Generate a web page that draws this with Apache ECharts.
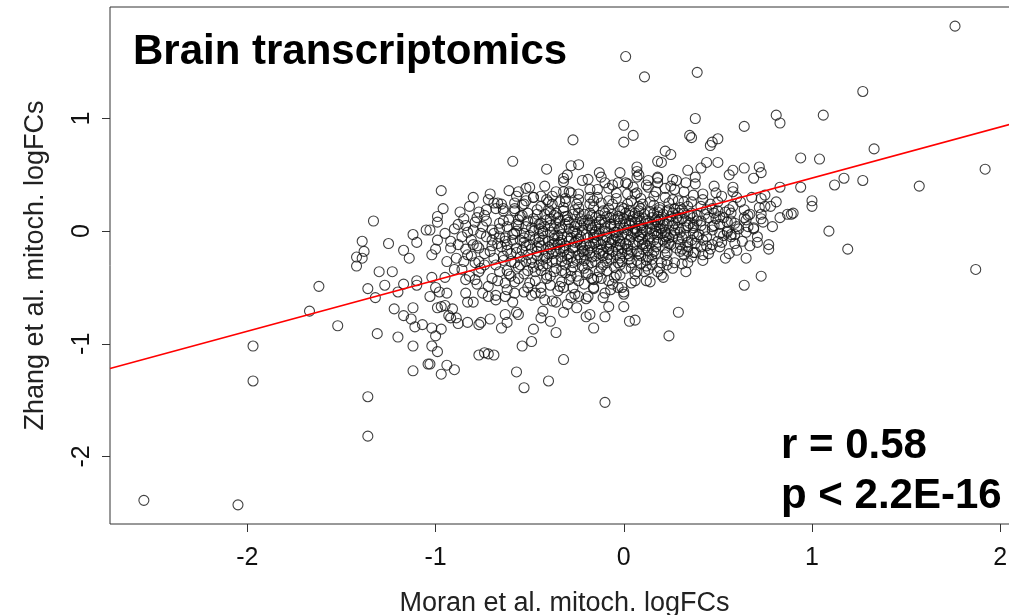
<!DOCTYPE html>
<html>
<head>
<meta charset="utf-8">
<script src="https://cdn.jsdelivr.net/npm/echarts@6/dist/echarts.min.js"></script>
<style>html,body{margin:0;padding:0;background:#fff;overflow:hidden}#c{width:1009px;height:615px}</style>
</head>
<body>
<div id="c"></div>
<script>
// ---- data ----
const xTicks = [-2, -1, 0, 1, 2];
const yTicks = [-2, -1, 0, 1];
const xName = 'Moran et al. mitoch. logFCs';
const yName = 'Zhang et al. mitoch. logFCs';
const titleText = 'Brain transcriptomics';
const statR = 'r = 0.58';
const statP = 'p < 2.2E-16';
const fitLine = [[-2.73, -1.22], [2.10, 0.97]];

const outliers = [
  [1.76,1.82],[1.27,1.24],[0.01,1.55],[0.11,1.37],[0.39,1.41],[0.38,1.00],[0.00,0.94],[0.64,0.93],
  [0.81,1.03],[0.83,0.96],[1.06,1.03],[1.33,0.73],[0.94,0.65],[1.04,0.64],[1.17,0.47],[1.12,0.41],
  [1.27,0.45],[1.57,0.40],[1.92,0.55],[1.00,0.27],[1.00,0.22],[1.09,0.00],[1.19,-0.16],[1.87,-0.34],
  [0.89,0.15],[0.94,0.39],[0.90,0.16],
  [-2.55,-2.39],[-2.05,-2.43],[-1.97,-1.02],[-1.97,-1.33],[-1.67,-0.71],[-1.62,-0.49],[-1.52,-0.84],
  [-1.39,-0.09],[-1.38,-0.18],[-1.42,-0.23],[-1.39,-0.24],[-1.42,-0.31],[-1.36,-0.51],[-1.36,-1.47],
  [-1.36,-1.82],[-1.33,0.09],[-1.30,-0.36],[-1.32,-0.59],[-1.31,-0.91],
  [-0.10,-1.52],[-0.53,-1.39],[-0.40,-1.33],[-0.57,-1.25],[-0.32,-1.14],[0.24,-0.93],[0.29,-0.72],
  [0.65,-0.24],[0.73,-0.40],[0.64,-0.48]
];

const leftCloud = [
  [-1.25,-0.11],[-1.23,-0.36],[-1.27,-0.48],[-1.17,-0.47],[-1.10,-0.44],[-1.10,-0.48],[-1.20,-0.54],
  [-1.22,-0.69],[-1.12,-0.68],[-1.17,-0.75],[-1.13,-0.78],[-1.11,-0.85],[-1.07,-0.83],[-1.20,-0.94],
  [-1.12,-1.02],[-1.02,-1.02],[-0.99,-1.07],[-1.04,-1.18],[-1.03,-1.18],[-1.12,-1.24],[-0.94,-1.19],
  [-0.90,-1.23],[-0.97,-1.27],[-1.02,-0.86],[-0.97,-0.87],[-1.00,-0.93],[-0.99,-0.68],[-0.97,-0.67],
  [-0.95,-0.66],[-0.91,-0.69],[-0.93,-0.75],[-0.92,-0.77],[-0.89,-0.77],[-0.88,-0.82],[-1.02,-0.41],
  [-0.95,-0.41],[-1.00,-0.50],[-0.98,-0.54],[-0.94,-0.55],[-1.03,-0.58],[-0.97,0.36],[-0.96,0.20],
  [-0.99,0.13],[-0.99,0.08],[-1.05,0.01],[-1.03,0.01],[-1.12,-0.03],[-1.10,-0.10],[-0.99,-0.08],
  [-0.95,-0.02],[-1.17,-0.17],[-1.14,-0.24],[-1.00,-0.16],[-1.02,-0.21],[-0.90,0.02],[-0.85,0.11],
  [-0.90,-0.34],[-0.86,-0.34],[-0.84,-0.55],[-0.83,-0.63],[-0.84,-0.43],[-0.79,-0.43],[-0.80,-0.63],
  [-0.83,-0.81],[-0.77,-0.83],[-0.77,-1.10],[-0.83,-0.01],[-0.80,0.01],
  [-0.92,-0.15],[-0.88,-0.12],[-0.84,-0.16],[-0.81,-0.22],[-0.89,-0.24],[-0.94,-0.27],[-0.78,-0.13],
  [-0.77,-0.27],[-0.85,-0.27]
];

const upperCloud = [
  [-0.27,0.81],[-0.59,0.62],[-0.41,0.55],[-0.28,0.58],[-0.24,0.59],[-0.32,0.47],[-0.30,0.50],
  [-0.50,0.39],[-0.36,0.35],[-0.32,0.35],[-0.29,0.35],[-0.56,0.35],[-0.57,0.31],[-0.48,0.30],
  [-0.41,0.28],[-0.69,0.25],[-0.67,0.25],[-0.53,0.24],[-0.64,0.20],[-0.58,0.18],[-0.51,0.16],
  [-0.31,0.26],[-0.25,0.24],[-0.39,0.17],
  [0.05,0.85],[0.00,0.79],[0.22,0.71],[0.25,0.68],[0.18,0.62],[0.20,0.61],[0.18,0.48],[0.26,0.46],
  [0.07,0.57],[0.07,0.53],[0.07,0.48],[-0.13,0.52],[-0.19,0.46],[-0.10,0.43],[-0.03,0.43],[0.01,0.43],
  [0.18,0.43],[0.27,0.37],[0.13,0.39],[0.07,0.34],
  [0.35,0.85],[0.36,0.83],[0.47,0.79],[0.50,0.82],[0.46,0.76],[0.50,0.61],[0.44,0.61],[0.34,0.54],
  [0.41,0.56],[0.38,0.48],[0.58,0.54],[0.56,0.50],[0.64,0.56],[0.72,0.57],[0.73,0.52],[0.69,0.47],
  [0.83,0.39],[0.75,0.32],[0.73,0.29]
];

const rightCloud = [
  [0.58,0.39],[0.60,0.30],[0.64,0.19],[0.67,0.15],[0.73,0.15],[0.75,0.22],[0.78,0.22],[0.81,0.26],
  [0.83,0.12],[0.87,0.15],[0.66,0.04],[0.69,0.03],[0.79,0.04],[0.65,-0.01],[0.59,-0.03],[0.55,0.00],
  [0.57,-0.05],[0.71,-0.10],[0.77,-0.12],[0.51,0.13],[0.48,0.16],[0.47,0.04],[0.42,-0.08],[0.41,-0.14],
  [0.34,-0.14],[0.51,-0.14],[0.42,-0.21],[0.37,-0.19],[0.34,-0.18],[0.31,-0.29],[0.77,-0.16]
];

const lowerCloud = [
  [0.03,-0.80],[0.06,-0.79],[-0.16,-0.86],[-0.10,-0.76],[-0.08,-0.67],[0.00,-0.67],[-0.20,-0.76],
  [-0.18,-0.74],[-0.11,-0.59],[-0.07,-0.52],[0.00,-0.54],[-0.01,-0.50],[-0.16,-0.50],[-0.19,-0.58],
  [0.13,-0.34],[0.07,-0.36],[0.12,-0.44],[0.20,-0.39],[-0.02,-0.39],[-0.05,-0.41],[-0.16,-0.43],
  [0.23,-0.30],
  [-0.63,-0.74],[-0.62,-0.81],[-0.65,-0.86],[-0.57,-0.72],[-0.56,-0.74],[-0.71,-0.78],[-0.76,-0.81],
  [-0.43,-0.71],[-0.44,-0.77],[-0.39,-0.80],[-0.32,-0.72],[-0.36,-0.90],[-0.48,-0.87],[-0.49,-0.98],
  [-0.54,-1.02],[-0.74,-1.08],[-0.72,-1.09],[-0.69,-1.10],[-0.25,-0.68],[-0.38,-0.62],[-0.42,-0.61],
  [-0.53,-0.54],[-0.63,-0.58],[-0.68,-0.61],[-0.72,-0.58],[-0.47,-0.55],[-0.32,-0.50],[-0.28,-0.59],
  [-0.24,-0.58]
];

const coreCloud = [
  [-0.82,0.22],[-0.78,0.12],[-0.84,0.05],[-0.76,-0.02],[-0.81,-0.08],[-0.77,-0.15],[-0.83,-0.21],[-0.79,-0.28],[-0.76,-0.33],[-0.82,-0.40],[-0.78,-0.47],[-0.80,0.30],[-0.75,-0.55],[-0.77,0.17],
  [-0.72,0.28],[-0.68,0.20],[-0.74,0.14],[-0.66,0.07],[-0.70,0.01],[-0.73,-0.05],[-0.67,-0.11],[-0.71,-0.18],[-0.69,-0.24],[-0.74,-0.30],[-0.66,-0.36],[-0.70,-0.42],[-0.72,-0.49],[-0.68,-0.57],[-0.71,0.33],[-0.65,-0.14],[-0.69,-0.02],
  [-0.61,0.36],[-0.58,0.25],[-0.64,0.18],[-0.56,0.10],[-0.62,0.04],[-0.59,-0.03],[-0.63,-0.09],[-0.57,-0.15],[-0.60,-0.20],[-0.64,-0.26],[-0.56,-0.32],[-0.61,-0.38],[-0.58,-0.45],[-0.62,-0.52],[-0.59,-0.63],[-0.55,0.13],[-0.63,-0.06],[-0.58,-0.28],[-0.60,-0.40],[-0.57,0.00],
  [-0.52,0.38],[-0.48,0.30],[-0.54,0.23],[-0.46,0.15],[-0.51,0.09],[-0.49,0.03],[-0.53,-0.02],[-0.47,-0.07],[-0.50,-0.12],[-0.54,-0.17],[-0.46,-0.22],[-0.52,-0.27],[-0.48,-0.32],[-0.53,-0.38],[-0.47,-0.44],[-0.51,-0.50],[-0.49,-0.57],[-0.45,0.06],[-0.53,-0.10],[-0.49,-0.25],[-0.51,-0.35],[-0.46,-0.14],[-0.50,-0.04],
  [-0.42,0.40],[-0.38,0.31],[-0.44,0.22],[-0.36,0.16],[-0.41,0.10],[-0.39,0.05],[-0.43,0.00],[-0.37,-0.04],[-0.40,-0.09],[-0.44,-0.13],[-0.36,-0.18],[-0.42,-0.22],[-0.38,-0.27],[-0.43,-0.31],[-0.37,-0.36],[-0.41,-0.42],[-0.39,-0.48],[-0.44,-0.55],[-0.36,-0.63],[-0.35,0.12],[-0.43,-0.02],[-0.39,-0.16],[-0.41,-0.29],[-0.37,-0.07],[-0.40,0.19],
  [-0.32,0.44],[-0.28,0.34],[-0.34,0.26],[-0.26,0.19],[-0.31,0.13],[-0.29,0.08],[-0.33,0.03],[-0.27,-0.01],[-0.30,-0.05],[-0.34,-0.10],[-0.26,-0.14],[-0.32,-0.18],[-0.28,-0.23],[-0.33,-0.27],[-0.27,-0.32],[-0.31,-0.37],[-0.29,-0.43],[-0.34,-0.49],[-0.26,-0.56],[-0.30,-0.65],[-0.25,0.06],[-0.33,-0.08],[-0.29,-0.20],[-0.31,-0.30],[-0.27,0.15],[-0.35,-0.12],
  [-0.22,0.45],[-0.18,0.37],[-0.24,0.28],[-0.16,0.21],[-0.21,0.15],[-0.19,0.10],[-0.23,0.05],[-0.17,0.01],[-0.20,-0.03],[-0.24,-0.07],[-0.16,-0.11],[-0.22,-0.15],[-0.18,-0.19],[-0.23,-0.24],[-0.17,-0.28],[-0.21,-0.33],[-0.19,-0.38],[-0.24,-0.44],[-0.16,-0.51],[-0.20,-0.60],[-0.15,0.12],[-0.23,-0.05],[-0.19,-0.17],[-0.21,-0.26],[-0.17,0.03],[-0.25,-0.09],[-0.18,0.24],
  [-0.12,0.48],[-0.08,0.38],[-0.14,0.30],[-0.06,0.24],[-0.11,0.18],[-0.09,0.13],[-0.13,0.08],[-0.07,0.04],[-0.10,0.00],[-0.14,-0.04],[-0.06,-0.08],[-0.12,-0.12],[-0.08,-0.16],[-0.13,-0.20],[-0.07,-0.25],[-0.11,-0.30],[-0.09,-0.35],[-0.14,-0.41],[-0.06,-0.47],[-0.10,-0.55],[-0.05,0.10],[-0.13,-0.02],[-0.09,-0.14],[-0.11,-0.22],[-0.07,0.06],[-0.15,-0.10],[-0.08,0.20],[-0.12,-0.32],
  [-0.02,0.52],[0.02,0.42],[-0.04,0.34],[0.04,0.27],[-0.01,0.21],[0.01,0.16],[-0.03,0.11],[0.03,0.07],[0.00,0.03],[-0.04,-0.01],[0.04,-0.05],[-0.02,-0.09],[0.02,-0.13],[-0.03,-0.17],[0.03,-0.22],[-0.01,-0.27],[0.01,-0.33],[-0.04,-0.39],[0.04,-0.46],[0.00,-0.56],[0.05,0.13],[-0.03,0.01],[0.01,-0.11],[-0.01,-0.20],[0.03,0.05],[-0.05,-0.07],[0.02,0.24],[-0.02,-0.30],[0.04,0.09],
  [0.08,0.50],[0.12,0.41],[0.06,0.33],[0.14,0.26],[0.09,0.20],[0.11,0.15],[0.07,0.11],[0.13,0.07],[0.10,0.03],[0.06,-0.01],[0.14,-0.05],[0.08,-0.09],[0.12,-0.13],[0.07,-0.18],[0.13,-0.23],[0.09,-0.29],[0.11,-0.36],[0.06,-0.44],[0.15,0.12],[0.07,0.00],[0.11,-0.11],[0.09,0.05],[0.13,-0.07],[0.08,0.22],[0.10,-0.16],[0.14,0.17],
  [0.18,0.47],[0.22,0.38],[0.16,0.31],[0.24,0.25],[0.19,0.19],[0.21,0.15],[0.17,0.10],[0.23,0.06],[0.20,0.02],[0.16,-0.02],[0.24,-0.06],[0.18,-0.10],[0.22,-0.15],[0.17,-0.20],[0.23,-0.26],[0.19,-0.33],[0.21,-0.41],[0.25,0.13],[0.17,0.04],[0.21,-0.08],[0.19,0.21],[0.23,-0.04],[0.18,0.08],
  [0.28,0.45],[0.32,0.35],[0.26,0.28],[0.34,0.22],[0.29,0.16],[0.31,0.11],[0.27,0.07],[0.33,0.03],[0.30,-0.01],[0.26,-0.05],[0.34,-0.10],[0.28,-0.15],[0.32,-0.21],[0.27,-0.28],[0.33,-0.36],[0.35,0.14],[0.27,0.01],[0.31,0.19],[0.29,-0.07],[0.33,0.09],
  [0.38,0.42],[0.42,0.33],[0.36,0.26],[0.44,0.19],[0.39,0.14],[0.41,0.09],[0.37,0.05],[0.43,0.01],[0.40,-0.03],[0.36,-0.08],[0.44,-0.13],[0.38,-0.19],[0.42,-0.26],[0.45,0.12],[0.37,0.03],[0.41,0.22],[0.39,-0.05],
  [0.48,0.40],[0.52,0.31],[0.46,0.24],[0.54,0.17],[0.49,0.11],[0.51,0.06],[0.47,0.01],[0.53,-0.04],[0.50,-0.09],[0.46,-0.16],[0.54,-0.24],[0.55,0.08],[0.47,0.20],[0.51,-0.02],
  [0.58,0.35],[0.62,0.26],[0.56,0.19],[0.64,0.12],[0.59,0.07],[0.61,0.02],[0.57,-0.03],[0.63,-0.09],[0.60,-0.17],[0.65,0.10],[0.57,0.16],
  [0.68,0.30],[0.72,0.21],[0.66,0.14],[0.74,0.08],[0.69,0.02],[0.71,-0.05],[0.67,-0.13],[0.73,0.11]
];

const coreCloud2 = [
  [-0.79,0.08],[-0.73,0.19],[-0.65,0.24],[-0.62,-0.12],[-0.77,-0.36],[-0.68,-0.30],[-0.63,-0.46],[-0.74,-0.20],[-0.66,0.02],[-0.61,0.10],[-0.80,-0.12],[-0.70,-0.08],[-0.64,-0.22],[-0.75,0.04],[-0.67,-0.44],
  [-0.58,0.20],[-0.52,0.27],[-0.44,0.31],[-0.56,0.05],[-0.48,0.11],[-0.42,0.04],[-0.59,-0.08],[-0.53,-0.06],[-0.45,-0.10],[-0.57,-0.19],[-0.51,-0.21],[-0.43,-0.25],[-0.55,-0.30],[-0.47,-0.36],[-0.41,-0.39],[-0.56,-0.42],[-0.50,-0.46],[-0.44,-0.50],[-0.58,-0.55],[-0.46,0.19],[-0.54,0.14],[-0.40,-0.14],[-0.49,-0.16],[-0.52,-0.13],[-0.45,-0.30],
  [-0.38,0.24],[-0.32,0.21],[-0.24,0.33],[-0.36,0.07],[-0.30,0.10],[-0.22,0.09],[-0.39,-0.01],[-0.33,-0.03],[-0.25,-0.02],[-0.37,-0.11],[-0.31,-0.13],[-0.23,-0.12],[-0.38,-0.20],[-0.30,-0.25],[-0.24,-0.21],[-0.36,-0.33],[-0.28,-0.35],[-0.22,-0.31],[-0.39,-0.40],[-0.33,-0.45],[-0.25,-0.40],[-0.35,-0.53],[-0.27,-0.50],[-0.21,-0.47],[-0.31,0.29],[-0.26,0.00],[-0.34,-0.16],[-0.29,-0.09],[-0.21,-0.17],[-0.37,0.14],
  [-0.18,0.30],[-0.12,0.25],[-0.04,0.29],[-0.17,0.14],[-0.10,0.16],[-0.02,0.18],[-0.19,0.05],[-0.13,0.02],[-0.05,0.05],[-0.16,-0.06],[-0.09,-0.05],[-0.01,-0.03],[-0.18,-0.13],[-0.12,-0.17],[-0.04,-0.14],[-0.15,-0.22],[-0.08,-0.21],[-0.02,-0.24],[-0.19,-0.30],[-0.13,-0.36],[-0.05,-0.32],[-0.17,-0.42],[-0.08,-0.44],[-0.03,-0.50],[-0.14,0.37],[-0.06,0.41],[-0.11,-0.08],[-0.07,-0.11],[-0.15,-0.01],[-0.03,0.13],
  [0.02,0.33],[0.09,0.29],[0.17,0.35],[0.03,0.18],[0.10,0.24],[0.16,0.16],[0.01,0.09],[0.08,0.13],[0.15,0.06],[0.02,-0.03],[0.09,-0.03],[0.16,-0.08],[0.03,-0.08],[0.10,-0.07],[0.17,-0.14],[0.02,-0.16],[0.08,-0.20],[0.15,-0.25],[0.04,-0.28],[0.12,-0.31],[0.18,-0.36],[0.06,-0.38],[0.14,-0.45],[0.05,0.39],[0.13,0.45],[0.06,0.02],[0.12,0.00],[0.19,0.03],[0.05,-0.12],[0.18,-0.03],
  [0.22,0.30],[0.29,0.27],[0.37,0.32],[0.23,0.18],[0.30,0.21],[0.36,0.16],[0.21,0.09],[0.28,0.12],[0.35,0.07],[0.22,-0.01],[0.29,0.03],[0.37,-0.02],[0.24,-0.11],[0.31,-0.06],[0.38,-0.11],[0.22,-0.21],[0.30,-0.18],[0.36,-0.23],[0.26,-0.33],[0.34,-0.28],[0.25,0.40],[0.33,0.43],[0.27,-0.02],[0.32,0.16],[0.39,0.09],
  [0.42,0.28],[0.50,0.26],[0.58,0.22],[0.43,0.15],[0.50,0.18],[0.57,0.09],[0.41,0.05],[0.48,0.05],[0.55,-0.01],[0.44,-0.05],[0.52,-0.10],[0.59,-0.11],[0.45,-0.20],[0.56,-0.20],[0.49,0.34],[0.53,0.12],[0.47,-0.12],[0.60,0.04]
];

const coreCloud3 = [
  [-0.34,0.02],[-0.28,-0.06],[-0.22,0.01],[-0.16,-0.03],[-0.10,0.03],[-0.04,-0.04],[0.02,0.01],[0.08,-0.05],[0.14,0.02],[0.20,-0.02],[0.26,0.05],
  [-0.32,-0.15],[-0.26,-0.10],[-0.20,-0.12],[-0.14,-0.16],[-0.08,-0.10],[-0.02,-0.12],[0.04,-0.18],[0.10,-0.12],[0.16,-0.18],[0.22,-0.10],
  [-0.30,0.13],[-0.24,0.16],[-0.18,0.07],[-0.12,0.10],[-0.06,0.15],[0.00,0.11],[0.06,0.16],[0.12,0.09],[0.18,0.13],[0.24,0.09],
  [-0.33,-0.23],[-0.27,-0.28],[-0.21,-0.21],[-0.15,-0.27],[-0.09,-0.24],[-0.03,-0.28],[0.03,-0.25],[0.09,-0.22],[0.15,-0.30],
  [-0.45,-0.05],[-0.40,-0.20],[-0.48,0.00],[-0.44,0.07],[-0.55,-0.23],[-0.58,-0.02],[-0.62,-0.17],[-0.66,-0.05]
];

const coreCloud4 = [
  [-0.47,0.09],[-0.43,-0.08],[-0.39,0.11],[-0.35,-0.04],[-0.31,0.06],[-0.27,-0.15],[-0.23,0.11],[-0.19,-0.06],[-0.15,0.05],[-0.11,-0.19],[-0.07,0.12],[-0.03,-0.06],[0.01,0.06],[0.05,-0.02],[0.09,0.09],[0.13,-0.17],[0.17,0.00],[0.21,0.05],[0.25,-0.12],[0.29,0.10],[0.33,-0.04],[0.37,0.12],
  [-0.46,-0.18],[-0.42,0.15],[-0.38,-0.12],[-0.34,0.09],[-0.30,-0.21],[-0.26,0.04],[-0.22,-0.18],[-0.18,0.16],[-0.14,-0.09],[-0.10,0.07],[-0.06,-0.18],[-0.02,0.07],[0.02,-0.20],[0.06,0.08],[0.10,-0.01],[0.14,-0.11],[0.18,0.17],[0.22,-0.05],[0.26,0.16],[0.30,-0.12],[0.34,0.05],
  [-0.49,-0.28],[-0.45,0.02],[-0.41,-0.24],[-0.37,0.02],[-0.33,-0.35],[-0.29,0.02],[-0.25,-0.26],[-0.21,0.07],[-0.17,-0.23],[-0.13,0.14],[-0.09,-0.28],[-0.05,-0.01],[-0.01,-0.15],[0.03,0.14],[0.07,-0.26],[0.11,0.11],[0.15,-0.21],[0.19,0.10],[0.23,-0.19],[0.27,0.20],[0.31,-0.16],
  [-0.44,-0.35],[-0.36,-0.26],[-0.28,-0.40],[-0.20,-0.37],[-0.12,-0.42],[-0.04,-0.21],[0.04,-0.33],[0.12,-0.26],[0.20,-0.28],
  [-0.40,0.26],[-0.32,0.18],[-0.24,0.21],[-0.16,0.27],[-0.08,0.27],[0.00,0.20],[0.08,0.18],[0.16,0.23],[0.24,0.19],[0.32,0.26],
  [-0.70,-0.13],[-0.64,0.09],[-0.60,-0.27],[-0.55,-0.08],[-0.52,0.04],[-0.57,0.06],[-0.62,-0.35],[-0.73,0.09],[-0.86,-0.05],[-0.88,0.06],[-0.92,-0.09],[-0.87,0.17]
];

const allPoints = [].concat(outliers, leftCloud, upperCloud, rightCloud, lowerCloud,
  coreCloud, coreCloud2, coreCloud3, coreCloud4);

// ---- chart ----
const FONT = '"Liberation Sans", Arial, Helvetica, sans-serif';
const chart = echarts.init(document.getElementById('c'), null, {renderer: 'canvas'});
chart.setOption({
  animation: false,
  backgroundColor: '#fff',
  grid: {left: 110, width: 909, top: 7, height: 517, outerBoundsMode: 'none', containLabel: false,
    show: true, borderColor: '#333', borderWidth: 1, backgroundColor: 'transparent'},
  xAxis: {
    type: 'value', min: -2.73, max: 2.10,
    name: xName, nameLocation: 'middle', nameGap: 66,
    nameTextStyle: {fontFamily: FONT, fontSize: 27, color: '#222'},
    axisLine: {show: false, onZero: false},
    splitLine: {show: false},
    axisTick: {show: true, length: 8, lineStyle: {color: '#333'}, customValues: xTicks},
    axisLabel: {fontFamily: FONT, fontSize: 25, color: '#111', margin: 22, customValues: xTicks,
      formatter: v => (v < 0 ? '-' + Math.abs(v) : String(v))}
  },
  yAxis: {
    type: 'value', min: -2.60, max: 1.99,
    name: yName, nameLocation: 'middle', nameGap: 61, nameRotate: 90,
    nameTextStyle: {fontFamily: FONT, fontSize: 27, color: '#222'},
    axisLine: {show: false, onZero: false},
    splitLine: {show: false},
    axisTick: {show: true, length: 8, lineStyle: {color: '#333'}, customValues: yTicks},
    axisLabel: {fontFamily: FONT, fontSize: 25, color: '#111', margin: 15, rotate: 90, customValues: yTicks,
      formatter: v => (v < 0 ? '-' + Math.abs(v) : String(v))}
  },
  series: [
    {
      type: 'scatter', data: allPoints, symbol: 'circle', symbolSize: 10,
      itemStyle: {color: 'rgba(0,0,0,0)', borderColor: '#111', borderWidth: 1.1},
      silent: true, z: 2
    },
    {
      type: 'line', data: fitLine, symbol: 'none', silent: true, z: 3,
      lineStyle: {color: '#ff0000', width: 1.6}
    }
  ],
  graphic: [
    {type: 'text', left: 133, top: 31, z: 10, style: {text: titleText, font: 'bold 42px ' + FONT, fill: '#000'}},
    {type: 'text', left: 781, top: 425, z: 10, style: {text: statR, font: 'bold 42px ' + FONT, fill: '#000'}},
    {type: 'text', left: 781, top: 475, z: 10, style: {text: statP, font: 'bold 42px ' + FONT, fill: '#000'}}
  ]
});
</script>
</body>
</html>
